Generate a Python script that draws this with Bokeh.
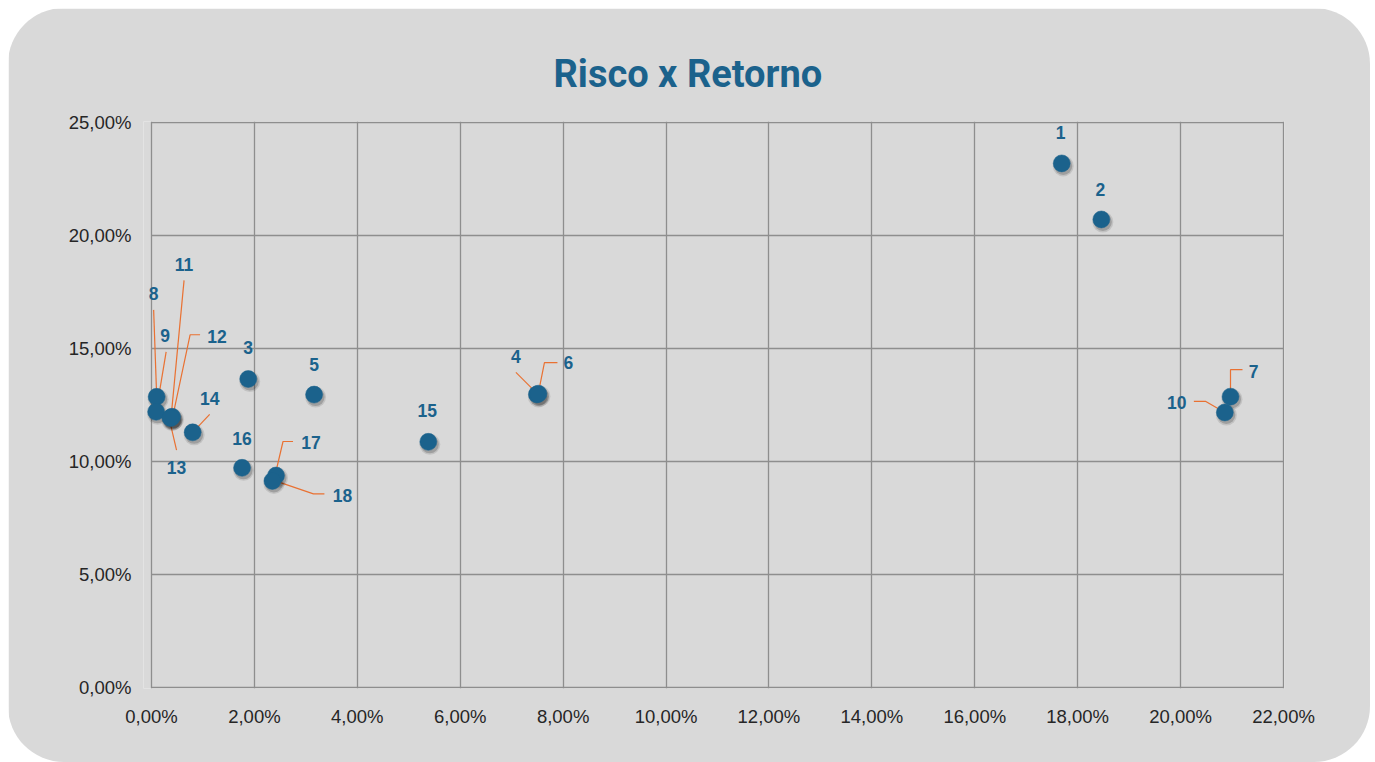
from bokeh.plotting import figure
from bokeh.models import (ColumnDataSource, Label, CustomJSTickFormatter, FixedTicker,
                          Range1d, InlineStyleSheet)
from bokeh.embed import file_html
from bokeh.resources import INLINE

# ---------------- data ----------------
labels = ["1", "2", "3", "4", "5", "6", "7", "8", "9", "10",
          "11", "12", "13", "14", "15", "16", "17", "18"]
risco = [17.69, 18.46, 1.88, 7.49, 3.16, 7.52, 20.97, 0.10, 0.09, 20.86,
         0.38, 0.40, 0.37, 0.80, 5.38, 1.76, 2.42, 2.35]
retorno = [23.19, 20.71, 13.65, 12.97, 12.96, 13.00, 12.87, 12.86, 12.20, 12.17,
           11.95, 11.98, 11.92, 11.29, 10.87, 9.72, 9.38, 9.14]
x_ticks = [0, 2, 4, 6, 8, 10, 12, 14, 16, 18, 20, 22]
y_ticks = [0, 5, 10, 15, 20, 25]
title_text = "Risco x Retorno"

# ---------------- label layout (screen pixel offsets, y down) ----------------
label_offsets = [(-1, -31), (-1, -30), (0, -32), (-21, -38), (0, -30), (30, -31),
                 (23, -25), (-3, -103), (9, -76), (-48, -10), (13, -153), (45, -80),
                 (6, 49), (17, -34), (-1, -31), (0, -29), (35, -33), (70, 15)]
leader_paths = [None, None, None, [(-21, -22), (0, -1)], None,
                [(0, -1), (6, -31), (19, -31)],
                [(0, 0), (0, -27), (12, -27)],
                [(-3, -87), (0, -1)],
                [(10, -60), (0, 0)],
                [(-31, -11), (-19, -11), (0, 0)],
                [(13, -137), (0, 0)],
                [(28, -82), (18, -82), (1, -2)],
                [(6, 32), (-1, 2)],
                [(17, -18), (1, -1)],
                None, None,
                [(17, -34), (7, -34), (-1, 0)],
                [(52, 13), (41, 13), (0, -1)]]

# ---------------- geometry ----------------
W, H = 1362, 754
XA, XB, YA, YB = 0, 22, 0, 25
PX = 1132 / (XB - XA)      # pixels per x unit
PY = 565 / (YB - YA)       # pixels per y unit
PADL, PADR, PADT, PADB = 8, 1, 1, 1
BL = 143 - PADL
BT = 114 - PADT
FW = 1132 + PADL + PADR
FH = 565 + PADT + PADB
BR = W - BL - FW
BB = H - BT - FH
ux, uy = 1 / PX, 1 / PY

BLUE = "#1b628c"
ORANGE = "#e97132"
GRID = "#8e8e8e"
BG = "#d9d9d9"

p = figure(width=W, height=H, output_backend="svg", toolbar_location=None,
           x_range=Range1d(XA - PADL * ux, XB + PADR * ux),
           y_range=Range1d(YA - PADB * uy, YB + PADT * uy),
           min_border_left=BL, min_border_right=BR, min_border_top=BT, min_border_bottom=BB,
           title=title_text)
p.margin = (8, 0, 0, 8)
p.stylesheets = [InlineStyleSheet(css=":host { border-radius: 56px; overflow: hidden; }")]
p.styles = {"border-radius": "56px", "overflow": "hidden"}
p.background_fill_color = BG
p.border_fill_color = BG
p.outline_line_color = None

p.title.align = "left"
p.title.text_font = "Roboto"
p.title.text_font_style = "bold"
p.title.text_font_size = "38px"
p.title.text_color = BLUE
p.title.standoff = 52
p.title.offset = 410

fmt = CustomJSTickFormatter(code="return tick.toFixed(2).replace('.', ',') + '%';")
for ax, ticks in ((p.xaxis[0], x_ticks), (p.yaxis[0], y_ticks)):
    ax.ticker = FixedTicker(ticks=ticks)
    ax.formatter = fmt
    ax.axis_line_color = None
    ax.major_tick_line_color = None
    ax.minor_tick_line_color = None
    ax.major_label_text_font = "Liberation Sans"
    ax.major_label_text_font_size = "18.5px"
    ax.major_label_text_color = "#262626"
p.xaxis.major_label_standoff = 11
p.yaxis.major_label_standoff = 6

p.xgrid.ticker = FixedTicker(ticks=x_ticks)
p.xgrid.grid_line_color = GRID
p.xgrid.grid_line_width = 1.3
p.ygrid.grid_line_color = None
# horizontal gridlines only across the 0..22 data span
p.segment(x0=[XA] * len(y_ticks), x1=[XB] * len(y_ticks), y0=y_ticks, y1=y_ticks,
          line_color=GRID, line_width=1.3)

# leader lines
lx, ly = [], []
for xi, yi, path in zip(risco, retorno, leader_paths):
    if path is None:
        continue
    lx.append([xi + dx * ux for dx, dy in path])
    ly.append([yi - dy * uy for dx, dy in path])
p.multi_line(xs=lx, ys=ly, line_color=ORANGE, line_width=1.2)

# marker shadow + markers
sh = ColumnDataSource(dict(x=[v + 1.5 * ux for v in risco], y=[v - 2.5 * uy for v in retorno]))
p.scatter("x", "y", source=sh, size=21, fill_color="#000000", fill_alpha=0.10, line_color=None)
p.scatter("x", "y", source=sh, size=18, fill_color="#000000", fill_alpha=0.18, line_color=None)
src = ColumnDataSource(dict(x=risco, y=retorno))
p.scatter("x", "y", source=src, size=17, fill_color=BLUE, line_color=BLUE, line_width=0.5)

# data labels
for xi, yi, t, (dx, dy) in zip(risco, retorno, labels, label_offsets):
    p.add_layout(Label(x=xi, y=yi, text=t, x_offset=dx, y_offset=-dy,
                       text_align="center", text_baseline="middle",
                       text_font="Liberation Sans", text_font_style="bold",
                       text_font_size="17.5px", text_color=BLUE))

open("out.html", "w").write(file_html(p, INLINE))
